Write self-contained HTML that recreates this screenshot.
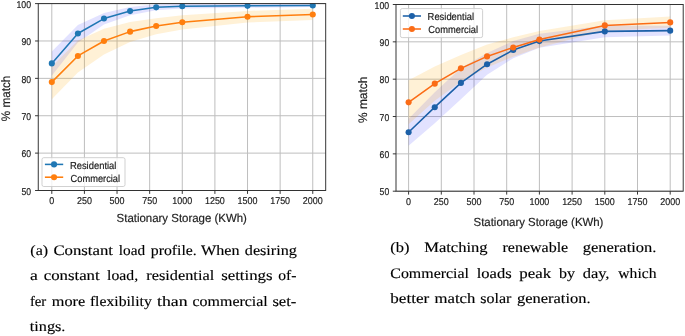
<!DOCTYPE html>
<html lang="en">
<head>
<meta charset="utf-8">
<title>Figure: % match vs stationary storage</title>
<style>
html,body{margin:0;padding:0;background:#fff;}
body{width:685px;height:336px;overflow:hidden;font-family:"Liberation Sans", sans-serif;}
svg{display:block;position:absolute;left:0;top:0;will-change:transform;filter:blur(0.35px);}
svg text{white-space:pre;text-rendering:geometricPrecision;}
.ct text{stroke:#202020;stroke-width:0.18px;}
</style>
</head>
<body>
<svg width="685" height="336" viewBox="0 0 685 336">
<rect x="0" y="0" width="685" height="336" fill="#ffffff"/>
<g class="ct" font-family='"Liberation Sans", sans-serif' fill="#202020">
<clipPath id="clipL"><rect x="38.25" y="3.6" width="287.45" height="186.90"/></clipPath>
<rect x="38.25" y="3.6" width="287.45" height="186.90" fill="#fff"/>
<line x1="51.80" y1="3.6" x2="51.80" y2="190.5" stroke="#bebebe" stroke-width="1.0"/>
<line x1="84.42" y1="3.6" x2="84.42" y2="190.5" stroke="#bebebe" stroke-width="1.0"/>
<line x1="117.04" y1="3.6" x2="117.04" y2="190.5" stroke="#bebebe" stroke-width="1.0"/>
<line x1="149.66" y1="3.6" x2="149.66" y2="190.5" stroke="#bebebe" stroke-width="1.0"/>
<line x1="182.28" y1="3.6" x2="182.28" y2="190.5" stroke="#bebebe" stroke-width="1.0"/>
<line x1="214.90" y1="3.6" x2="214.90" y2="190.5" stroke="#bebebe" stroke-width="1.0"/>
<line x1="247.52" y1="3.6" x2="247.52" y2="190.5" stroke="#bebebe" stroke-width="1.0"/>
<line x1="280.14" y1="3.6" x2="280.14" y2="190.5" stroke="#bebebe" stroke-width="1.0"/>
<line x1="312.76" y1="3.6" x2="312.76" y2="190.5" stroke="#bebebe" stroke-width="1.0"/>
<line x1="38.25" y1="190.50" x2="325.7" y2="190.50" stroke="#bebebe" stroke-width="1.0"/>
<line x1="38.25" y1="153.12" x2="325.7" y2="153.12" stroke="#bebebe" stroke-width="1.0"/>
<line x1="38.25" y1="115.74" x2="325.7" y2="115.74" stroke="#bebebe" stroke-width="1.0"/>
<line x1="38.25" y1="78.36" x2="325.7" y2="78.36" stroke="#bebebe" stroke-width="1.0"/>
<line x1="38.25" y1="40.98" x2="325.7" y2="40.98" stroke="#bebebe" stroke-width="1.0"/>
<line x1="38.25" y1="3.60" x2="325.7" y2="3.60" stroke="#bebebe" stroke-width="1.0"/>
<g clip-path="url(#clipL)">
<polygon points="51.80,51.45 77.90,24.91 103.99,12.94 130.09,6.96 156.18,4.35 182.28,3.97 247.52,3.97 312.76,3.97 312.76,6.96 247.52,7.71 182.28,8.46 156.18,10.33 130.09,15.19 103.99,24.53 77.90,42.48 51.80,75.74" fill="#0000ff" fill-opacity="0.115"/>
<polygon points="51.80,66.40 77.90,40.61 103.99,28.64 130.09,21.92 156.18,18.18 182.28,15.19 247.52,10.89 312.76,8.83 312.76,20.05 247.52,22.48 182.28,29.39 156.18,34.25 130.09,42.10 103.99,54.44 77.90,72.38 51.80,99.29" fill="#ffa500" fill-opacity="0.16"/>
<polyline points="51.80,63.41 77.90,33.50 103.99,18.55 130.09,11.08 156.18,7.34 182.28,6.22 247.52,5.84 312.76,5.47" fill="none" stroke="#1f77b4" stroke-width="1.55" stroke-linejoin="round"/><circle cx="51.80" cy="63.41" r="3.05" fill="#1f77b4"/><circle cx="77.90" cy="33.50" r="3.05" fill="#1f77b4"/><circle cx="103.99" cy="18.55" r="3.05" fill="#1f77b4"/><circle cx="130.09" cy="11.08" r="3.05" fill="#1f77b4"/><circle cx="156.18" cy="7.34" r="3.05" fill="#1f77b4"/><circle cx="182.28" cy="6.22" r="3.05" fill="#1f77b4"/><circle cx="247.52" cy="5.84" r="3.05" fill="#1f77b4"/><circle cx="312.76" cy="5.47" r="3.05" fill="#1f77b4"/>
<polyline points="51.80,82.10 77.90,55.93 103.99,40.98 130.09,31.63 156.18,26.03 182.28,22.29 247.52,16.68 312.76,14.44" fill="none" stroke="#ff7f0e" stroke-width="1.55" stroke-linejoin="round"/><circle cx="51.80" cy="82.10" r="3.05" fill="#ff7f0e"/><circle cx="77.90" cy="55.93" r="3.05" fill="#ff7f0e"/><circle cx="103.99" cy="40.98" r="3.05" fill="#ff7f0e"/><circle cx="130.09" cy="31.63" r="3.05" fill="#ff7f0e"/><circle cx="156.18" cy="26.03" r="3.05" fill="#ff7f0e"/><circle cx="182.28" cy="22.29" r="3.05" fill="#ff7f0e"/><circle cx="247.52" cy="16.68" r="3.05" fill="#ff7f0e"/><circle cx="312.76" cy="14.44" r="3.05" fill="#ff7f0e"/>
</g>
<rect x="38.25" y="3.6" width="287.45" height="186.90" fill="none" stroke="#2c2c2c" stroke-width="0.95"/>
<line x1="51.80" y1="190.5" x2="51.80" y2="193.90" stroke="#2c2c2c" stroke-width="0.95"/>
<text x="49.30" y="204.15" font-size="9.9" textLength="5.0" lengthAdjust="spacingAndGlyphs">0</text>
<line x1="84.42" y1="190.5" x2="84.42" y2="193.90" stroke="#2c2c2c" stroke-width="0.95"/>
<text x="76.97" y="204.15" font-size="9.9" textLength="14.9" lengthAdjust="spacingAndGlyphs">250</text>
<line x1="117.04" y1="190.5" x2="117.04" y2="193.90" stroke="#2c2c2c" stroke-width="0.95"/>
<text x="109.59" y="204.15" font-size="9.9" textLength="14.9" lengthAdjust="spacingAndGlyphs">500</text>
<line x1="149.66" y1="190.5" x2="149.66" y2="193.90" stroke="#2c2c2c" stroke-width="0.95"/>
<text x="142.21" y="204.15" font-size="9.9" textLength="14.9" lengthAdjust="spacingAndGlyphs">750</text>
<line x1="182.28" y1="190.5" x2="182.28" y2="193.90" stroke="#2c2c2c" stroke-width="0.95"/>
<text x="172.33" y="204.15" font-size="9.9" textLength="19.9" lengthAdjust="spacingAndGlyphs">1000</text>
<line x1="214.90" y1="190.5" x2="214.90" y2="193.90" stroke="#2c2c2c" stroke-width="0.95"/>
<text x="204.95" y="204.15" font-size="9.9" textLength="19.9" lengthAdjust="spacingAndGlyphs">1250</text>
<line x1="247.52" y1="190.5" x2="247.52" y2="193.90" stroke="#2c2c2c" stroke-width="0.95"/>
<text x="237.57" y="204.15" font-size="9.9" textLength="19.9" lengthAdjust="spacingAndGlyphs">1500</text>
<line x1="280.14" y1="190.5" x2="280.14" y2="193.90" stroke="#2c2c2c" stroke-width="0.95"/>
<text x="270.19" y="204.15" font-size="9.9" textLength="19.9" lengthAdjust="spacingAndGlyphs">1750</text>
<line x1="312.76" y1="190.5" x2="312.76" y2="193.90" stroke="#2c2c2c" stroke-width="0.95"/>
<text x="302.81" y="204.15" font-size="9.9" textLength="19.9" lengthAdjust="spacingAndGlyphs">2000</text>
<line x1="35.05" y1="190.50" x2="38.25" y2="190.50" stroke="#2c2c2c" stroke-width="0.95"/>
<text x="21.50" y="194.75" font-size="9.9" textLength="9.6" lengthAdjust="spacingAndGlyphs">50</text>
<line x1="35.05" y1="153.12" x2="38.25" y2="153.12" stroke="#2c2c2c" stroke-width="0.95"/>
<text x="21.50" y="157.37" font-size="9.9" textLength="9.6" lengthAdjust="spacingAndGlyphs">60</text>
<line x1="35.05" y1="115.74" x2="38.25" y2="115.74" stroke="#2c2c2c" stroke-width="0.95"/>
<text x="21.50" y="119.99" font-size="9.9" textLength="9.6" lengthAdjust="spacingAndGlyphs">70</text>
<line x1="35.05" y1="78.36" x2="38.25" y2="78.36" stroke="#2c2c2c" stroke-width="0.95"/>
<text x="21.50" y="82.61" font-size="9.9" textLength="9.6" lengthAdjust="spacingAndGlyphs">80</text>
<line x1="35.05" y1="40.98" x2="38.25" y2="40.98" stroke="#2c2c2c" stroke-width="0.95"/>
<text x="21.50" y="45.23" font-size="9.9" textLength="9.6" lengthAdjust="spacingAndGlyphs">90</text>
<line x1="35.05" y1="3.60" x2="38.25" y2="3.60" stroke="#2c2c2c" stroke-width="0.95"/>
<text x="16.50" y="7.85" font-size="9.9" textLength="14.6" lengthAdjust="spacingAndGlyphs">100</text>
<text x="116.6" y="222.2" font-size="11.8" textLength="130.30" lengthAdjust="spacingAndGlyphs">Stationary Storage (KWh)</text>
<text transform="translate(10.0,121.30) rotate(-90)" x="0" y="0" font-size="12.3" textLength="45.6" lengthAdjust="spacingAndGlyphs">% match</text>
<rect x="42.0" y="157.7" width="83.00" height="28.80" rx="1.8" ry="1.8" fill="#fff" fill-opacity="0.8" stroke="#cccccc" stroke-width="0.9"/>
<line x1="44.9" y1="164.4" x2="63.2" y2="164.4" stroke="#1f77b4" stroke-width="1.55"/>
<circle cx="54.05" cy="164.4" r="3.05" fill="#1f77b4"/>
<text x="69.9" y="168.7" font-size="10.1" textLength="46.50" lengthAdjust="spacingAndGlyphs">Residential</text>
<line x1="44.9" y1="177.2" x2="63.2" y2="177.2" stroke="#ff7f0e" stroke-width="1.55"/>
<circle cx="54.05" cy="177.2" r="3.05" fill="#ff7f0e"/>
<text x="70.6" y="181.5" font-size="10.1" textLength="49.50" lengthAdjust="spacingAndGlyphs">Commercial</text>
<clipPath id="clipR"><rect x="396.0" y="4.5" width="287.20" height="186.70"/></clipPath>
<rect x="396.0" y="4.5" width="287.20" height="186.70" fill="#fff"/>
<line x1="408.60" y1="4.5" x2="408.60" y2="191.2" stroke="#bebebe" stroke-width="1.0"/>
<line x1="441.30" y1="4.5" x2="441.30" y2="191.2" stroke="#bebebe" stroke-width="1.0"/>
<line x1="474.00" y1="4.5" x2="474.00" y2="191.2" stroke="#bebebe" stroke-width="1.0"/>
<line x1="506.70" y1="4.5" x2="506.70" y2="191.2" stroke="#bebebe" stroke-width="1.0"/>
<line x1="539.40" y1="4.5" x2="539.40" y2="191.2" stroke="#bebebe" stroke-width="1.0"/>
<line x1="572.10" y1="4.5" x2="572.10" y2="191.2" stroke="#bebebe" stroke-width="1.0"/>
<line x1="604.80" y1="4.5" x2="604.80" y2="191.2" stroke="#bebebe" stroke-width="1.0"/>
<line x1="637.50" y1="4.5" x2="637.50" y2="191.2" stroke="#bebebe" stroke-width="1.0"/>
<line x1="670.20" y1="4.5" x2="670.20" y2="191.2" stroke="#bebebe" stroke-width="1.0"/>
<line x1="396.0" y1="191.20" x2="683.2" y2="191.20" stroke="#bebebe" stroke-width="1.0"/>
<line x1="396.0" y1="153.86" x2="683.2" y2="153.86" stroke="#bebebe" stroke-width="1.0"/>
<line x1="396.0" y1="116.52" x2="683.2" y2="116.52" stroke="#bebebe" stroke-width="1.0"/>
<line x1="396.0" y1="79.18" x2="683.2" y2="79.18" stroke="#bebebe" stroke-width="1.0"/>
<line x1="396.0" y1="41.84" x2="683.2" y2="41.84" stroke="#bebebe" stroke-width="1.0"/>
<line x1="396.0" y1="4.50" x2="683.2" y2="4.50" stroke="#bebebe" stroke-width="1.0"/>
<g clip-path="url(#clipR)">
<polygon points="408.60,118.76 434.76,92.25 460.92,67.98 487.08,53.04 513.24,41.09 539.40,33.63 604.80,25.41 670.20,25.78 670.20,35.49 604.80,37.36 539.40,47.81 513.24,58.27 487.08,74.70 460.92,99.34 434.76,123.24 408.60,145.65" fill="#0000ff" fill-opacity="0.115"/>
<polygon points="408.60,80.30 434.76,66.48 460.92,54.91 487.08,44.45 513.24,37.36 539.40,31.01 604.80,20.18 670.20,16.45 670.20,27.65 604.80,30.64 539.40,47.44 513.24,56.78 487.08,67.60 460.92,81.79 434.76,100.84 408.60,124.36" fill="#ffa500" fill-opacity="0.16"/>
<polyline points="408.60,132.20 434.76,107.18 460.92,82.91 487.08,64.24 513.24,50.05 539.40,41.09 604.80,31.38 670.20,30.64" fill="none" stroke="#1c60a8" stroke-width="1.55" stroke-linejoin="round"/><circle cx="408.60" cy="132.20" r="3.05" fill="#1c60a8"/><circle cx="434.76" cy="107.18" r="3.05" fill="#1c60a8"/><circle cx="460.92" cy="82.91" r="3.05" fill="#1c60a8"/><circle cx="487.08" cy="64.24" r="3.05" fill="#1c60a8"/><circle cx="513.24" cy="50.05" r="3.05" fill="#1c60a8"/><circle cx="539.40" cy="41.09" r="3.05" fill="#1c60a8"/><circle cx="604.80" cy="31.38" r="3.05" fill="#1c60a8"/><circle cx="670.20" cy="30.64" r="3.05" fill="#1c60a8"/>
<polyline points="408.60,102.33 434.76,83.66 460.92,68.35 487.08,56.40 513.24,47.44 539.40,39.60 604.80,25.41 670.20,22.42" fill="none" stroke="#fb6c16" stroke-width="1.55" stroke-linejoin="round"/><circle cx="408.60" cy="102.33" r="3.05" fill="#fb6c16"/><circle cx="434.76" cy="83.66" r="3.05" fill="#fb6c16"/><circle cx="460.92" cy="68.35" r="3.05" fill="#fb6c16"/><circle cx="487.08" cy="56.40" r="3.05" fill="#fb6c16"/><circle cx="513.24" cy="47.44" r="3.05" fill="#fb6c16"/><circle cx="539.40" cy="39.60" r="3.05" fill="#fb6c16"/><circle cx="604.80" cy="25.41" r="3.05" fill="#fb6c16"/><circle cx="670.20" cy="22.42" r="3.05" fill="#fb6c16"/>
</g>
<rect x="396.0" y="4.5" width="287.20" height="186.70" fill="none" stroke="#2c2c2c" stroke-width="0.95"/>
<line x1="408.60" y1="191.2" x2="408.60" y2="194.60" stroke="#2c2c2c" stroke-width="0.95"/>
<text x="406.10" y="205.1" font-size="9.9" textLength="5.0" lengthAdjust="spacingAndGlyphs">0</text>
<line x1="441.30" y1="191.2" x2="441.30" y2="194.60" stroke="#2c2c2c" stroke-width="0.95"/>
<text x="433.85" y="205.1" font-size="9.9" textLength="14.9" lengthAdjust="spacingAndGlyphs">250</text>
<line x1="474.00" y1="191.2" x2="474.00" y2="194.60" stroke="#2c2c2c" stroke-width="0.95"/>
<text x="466.55" y="205.1" font-size="9.9" textLength="14.9" lengthAdjust="spacingAndGlyphs">500</text>
<line x1="506.70" y1="191.2" x2="506.70" y2="194.60" stroke="#2c2c2c" stroke-width="0.95"/>
<text x="499.25" y="205.1" font-size="9.9" textLength="14.9" lengthAdjust="spacingAndGlyphs">750</text>
<line x1="539.40" y1="191.2" x2="539.40" y2="194.60" stroke="#2c2c2c" stroke-width="0.95"/>
<text x="529.45" y="205.1" font-size="9.9" textLength="19.9" lengthAdjust="spacingAndGlyphs">1000</text>
<line x1="572.10" y1="191.2" x2="572.10" y2="194.60" stroke="#2c2c2c" stroke-width="0.95"/>
<text x="562.15" y="205.1" font-size="9.9" textLength="19.9" lengthAdjust="spacingAndGlyphs">1250</text>
<line x1="604.80" y1="191.2" x2="604.80" y2="194.60" stroke="#2c2c2c" stroke-width="0.95"/>
<text x="594.85" y="205.1" font-size="9.9" textLength="19.9" lengthAdjust="spacingAndGlyphs">1500</text>
<line x1="637.50" y1="191.2" x2="637.50" y2="194.60" stroke="#2c2c2c" stroke-width="0.95"/>
<text x="627.55" y="205.1" font-size="9.9" textLength="19.9" lengthAdjust="spacingAndGlyphs">1750</text>
<line x1="670.20" y1="191.2" x2="670.20" y2="194.60" stroke="#2c2c2c" stroke-width="0.95"/>
<text x="660.25" y="205.1" font-size="9.9" textLength="19.9" lengthAdjust="spacingAndGlyphs">2000</text>
<line x1="392.80" y1="191.20" x2="396.0" y2="191.20" stroke="#2c2c2c" stroke-width="0.95"/>
<text x="379.60" y="195.45" font-size="9.9" textLength="9.6" lengthAdjust="spacingAndGlyphs">50</text>
<line x1="392.80" y1="153.86" x2="396.0" y2="153.86" stroke="#2c2c2c" stroke-width="0.95"/>
<text x="379.60" y="158.11" font-size="9.9" textLength="9.6" lengthAdjust="spacingAndGlyphs">60</text>
<line x1="392.80" y1="116.52" x2="396.0" y2="116.52" stroke="#2c2c2c" stroke-width="0.95"/>
<text x="379.60" y="120.77" font-size="9.9" textLength="9.6" lengthAdjust="spacingAndGlyphs">70</text>
<line x1="392.80" y1="79.18" x2="396.0" y2="79.18" stroke="#2c2c2c" stroke-width="0.95"/>
<text x="379.60" y="83.43" font-size="9.9" textLength="9.6" lengthAdjust="spacingAndGlyphs">80</text>
<line x1="392.80" y1="41.84" x2="396.0" y2="41.84" stroke="#2c2c2c" stroke-width="0.95"/>
<text x="379.60" y="46.09" font-size="9.9" textLength="9.6" lengthAdjust="spacingAndGlyphs">90</text>
<line x1="392.80" y1="4.50" x2="396.0" y2="4.50" stroke="#2c2c2c" stroke-width="0.95"/>
<text x="374.60" y="8.75" font-size="9.9" textLength="14.6" lengthAdjust="spacingAndGlyphs">100</text>
<text x="473.6" y="225.6" font-size="11.8" textLength="129.80" lengthAdjust="spacingAndGlyphs">Stationary Storage (KWh)</text>
<text transform="translate(367.4,122.95) rotate(-90)" x="0" y="0" font-size="12.3" textLength="46.3" lengthAdjust="spacingAndGlyphs">% match</text>
<rect x="400.4" y="8.6" width="82.20" height="29.00" rx="1.8" ry="1.8" fill="#fff" fill-opacity="0.8" stroke="#cccccc" stroke-width="0.9"/>
<line x1="402.8" y1="16.0" x2="421.0" y2="16.0" stroke="#1c60a8" stroke-width="1.55"/>
<circle cx="411.90" cy="16.0" r="3.05" fill="#1c60a8"/>
<text x="427.6" y="20.1" font-size="10.1" textLength="46.50" lengthAdjust="spacingAndGlyphs">Residential</text>
<line x1="402.8" y1="29.0" x2="421.0" y2="29.0" stroke="#fb6c16" stroke-width="1.55"/>
<circle cx="411.90" cy="29.0" r="3.05" fill="#fb6c16"/>
<text x="428.3" y="33.1" font-size="10.1" textLength="49.70" lengthAdjust="spacingAndGlyphs">Commercial</text>
</g>
<g font-family='"Liberation Serif", serif' font-size="14.4" fill="#000" stroke="#000" stroke-width="0.14">
<text x="30.30" y="254.8" textLength="17.80" lengthAdjust="spacingAndGlyphs">(a)</text>
<text x="53.40" y="254.8" textLength="59.60" lengthAdjust="spacingAndGlyphs">Constant</text>
<text x="118.80" y="254.8" textLength="26.30" lengthAdjust="spacingAndGlyphs">load</text>
<text x="150.80" y="254.8" textLength="46.00" lengthAdjust="spacingAndGlyphs">profile.</text>
<text x="201.10" y="254.8" textLength="38.50" lengthAdjust="spacingAndGlyphs">When</text>
<text x="244.80" y="254.8" textLength="52.10" lengthAdjust="spacingAndGlyphs">desiring</text>
<text x="30.10" y="280.2" textLength="7.80" lengthAdjust="spacingAndGlyphs">a</text>
<text x="43.70" y="280.2" textLength="56.00" lengthAdjust="spacingAndGlyphs">constant</text>
<text x="107.10" y="280.2" textLength="31.00" lengthAdjust="spacingAndGlyphs">load,</text>
<text x="146.30" y="280.2" textLength="67.90" lengthAdjust="spacingAndGlyphs">residential</text>
<text x="221.20" y="280.2" textLength="51.40" lengthAdjust="spacingAndGlyphs">settings</text>
<text x="278.30" y="280.2" textLength="18.20" lengthAdjust="spacingAndGlyphs">of-</text>
<text x="29.90" y="305.7" textLength="16.40" lengthAdjust="spacingAndGlyphs">fer</text>
<text x="51.80" y="305.7" textLength="33.40" lengthAdjust="spacingAndGlyphs">more</text>
<text x="89.90" y="305.7" textLength="61.90" lengthAdjust="spacingAndGlyphs">flexibility</text>
<text x="157.00" y="305.7" textLength="30.60" lengthAdjust="spacingAndGlyphs">than</text>
<text x="192.50" y="305.7" textLength="75.30" lengthAdjust="spacingAndGlyphs">commercial</text>
<text x="272.40" y="305.7" textLength="24.00" lengthAdjust="spacingAndGlyphs">set-</text>
<text x="29.80" y="331.1" textLength="35.60" lengthAdjust="spacingAndGlyphs">tings.</text>
<text x="390.30" y="252.1" textLength="19.20" lengthAdjust="spacingAndGlyphs">(b)</text>
<text x="424.20" y="252.1" textLength="63.40" lengthAdjust="spacingAndGlyphs">Matching</text>
<text x="502.50" y="252.1" textLength="65.70" lengthAdjust="spacingAndGlyphs">renewable</text>
<text x="582.70" y="252.1" textLength="73.80" lengthAdjust="spacingAndGlyphs">generation.</text>
<text x="390.30" y="277.8" textLength="78.70" lengthAdjust="spacingAndGlyphs">Commercial</text>
<text x="476.70" y="277.8" textLength="34.90" lengthAdjust="spacingAndGlyphs">loads</text>
<text x="519.30" y="277.8" textLength="31.80" lengthAdjust="spacingAndGlyphs">peak</text>
<text x="559.10" y="277.8" textLength="16.00" lengthAdjust="spacingAndGlyphs">by</text>
<text x="582.70" y="277.8" textLength="26.80" lengthAdjust="spacingAndGlyphs">day,</text>
<text x="618.30" y="277.8" textLength="38.20" lengthAdjust="spacingAndGlyphs">which</text>
<text x="390.30" y="303.45" textLength="38.90" lengthAdjust="spacingAndGlyphs">better</text>
<text x="434.60" y="303.45" textLength="40.80" lengthAdjust="spacingAndGlyphs">match</text>
<text x="480.30" y="303.45" textLength="31.10" lengthAdjust="spacingAndGlyphs">solar</text>
<text x="517.00" y="303.45" textLength="73.60" lengthAdjust="spacingAndGlyphs">generation.</text>
</g>
</svg>
</body>
</html>
